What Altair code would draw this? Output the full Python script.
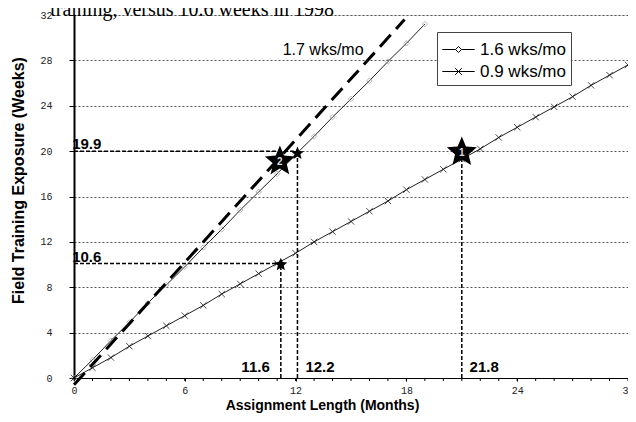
import altair as alt
import pandas as pd

# ---- data ----
months_16 = list(range(0, 20))
weeks_16 = [0, 1.6, 3.3, 4.9, 6.6, 8.2, 9.8, 11.5, 13.1, 14.8, 16.4, 18.0, 19.7,
            21.3, 23.0, 24.6, 26.2, 27.9, 29.5, 31.2]
months_09 = list(range(0, 31))
weeks_09 = [0, 0.9, 1.8, 2.8, 3.7, 4.6, 5.5, 6.4, 7.4, 8.3, 9.2, 10.1, 11.0, 12.0,
            12.9, 13.8, 14.7, 15.6, 16.6, 17.5, 18.4, 19.3, 20.2, 21.2, 22.1, 23.0,
            23.9, 24.8, 25.8, 26.7, 27.6]
months_17 = [0, 17.9]
weeks_17 = [-0.6, 31.6]

series_names = ["1.6 wks/mo", "0.9 wks/mo"]

# reference (dashed) lines: x, x2, y, y2
ref_x = [0, 0, 11.2, 12.1, 21.0]
ref_x2 = [12.1, 11.2, 11.2, 12.1, 21.0]
ref_y = [20.0, 10.1, 0, 0, 0]
ref_y2 = [20.0, 10.1, 10.1, 20.0, 19.9]

# stars
star_x = [12.1, 11.2, 11.15, 21.0]
star_y = [19.8, 10.0, 19.1, 19.9]
star_size = [190, 190, 1000, 1000]
star_num = ["", "", "2", "1"]

# labels
lab_text = ["19.9", "10.6", "11.6", "12.2", "21.8"]
lab_x = [-0.1, -0.1, 10.6, 12.53, 21.42]
lab_y = [20.2, 10.2, 0.5, 0.5, 0.5]
lab_align = ["left", "left", "right", "left", "left"]

x_labels = [0, 6, 12, 18, 24, 30]
x_minor = list(range(0, 31))
y_ticks = [0, 4, 8, 12, 16, 20, 24, 28, 32]

STAR = ("M0,-1L0.2645,-0.364L0.951,-0.309L0.428,0.139L0.588,0.809L0,0.45"
        "L-0.588,0.809L-0.428,0.139L-0.951,-0.309L-0.2645,-0.364Z")
XMARK = "M-1,-1L1,1M-1,1L1,-1"
LEG_DIAMOND = "M-1.35,0H-0.25M0.25,0H1.35M-0.25,0L0,-0.25L0.25,0L0,0.25Z"
LEG_X = "M-1.35,0H1.35M-0.28,-0.28L0.28,0.28M-0.28,0.28L0.28,-0.28"

W, H = 554, 363

# ---- frames ----
df16 = pd.DataFrame({"month": months_16, "weeks": weeks_16, "series": series_names[0]})
df09 = pd.DataFrame({"month": months_09, "weeks": weeks_09, "series": series_names[1]})
df_lines = pd.concat([df16, df09], ignore_index=True)
df_leg = pd.DataFrame({"series": series_names, "month": [1, 1], "weeks": [1, 1]})
df_17 = pd.DataFrame({"month": months_17, "weeks": weeks_17})
df_ref = pd.DataFrame({"x": ref_x, "x2": ref_x2, "y": ref_y, "y2": ref_y2})
df_star = pd.DataFrame({"x": star_x, "y": star_y, "s": star_size, "n": star_num})
df_lab = pd.DataFrame({"t": lab_text, "x": lab_x, "y": lab_y, "a": lab_align})
df_minor = pd.DataFrame({"m": x_minor})

XS = alt.Scale(domain=[0, 30], nice=False, zero=False)
YS = alt.Scale(domain=[0, 32], nice=False, zero=False)

x_axis = alt.Axis(
    values=x_labels, labelOverlap=False,
    grid=False, tickSize=3, tickColor="black", domainColor="black",
    labelFont="Liberation Mono", labelFontSize=10, labelColor="#222",
    labelPadding=4, title="Assignment Length (Months)",
    titleFont="Liberation Sans", titleFontSize=14, titleFontWeight="bold",
    titleColor="black", titleX=248, titleY=27, titleAlign="center",
    titleBaseline="middle", labelFlush=False,
)
y_axis = alt.Axis(
    values=y_ticks, grid=True, gridColor="#555", gridDash=[2, 2], gridWidth=1,
    tickSize=5, tickColor="black", domainColor="black", domainWidth=2,
    labelFont="Liberation Mono", labelFontSize=10, labelColor="#222",
    labelPadding=17, title="Field Training Exposure (Weeks)",
    titleFont="Liberation Sans", titleFontSize=16, titleFontWeight="bold",
    titleColor="black", titleX=-56, titleY=165, titleAngle=-90,
    titleAlign="center", titleBaseline="middle",
)

lines = alt.Chart(df_lines).mark_line(color="#222", strokeWidth=1, clip=False).encode(
    x=alt.X("month:Q", scale=XS, axis=x_axis),
    y=alt.Y("weeks:Q", scale=YS, axis=y_axis),
    detail="series:N",
)

minor_ticks = alt.Chart(df_minor).mark_rule(color="black", strokeWidth=1).encode(
    x=alt.X("m:Q", scale=XS),
    y=alt.value(H), y2=alt.value(H + 3),
)

pts16 = alt.Chart(df16).mark_point(shape="diamond", filled=False, strokeWidth=1, size=30, color="#999").encode(
    x=alt.X("month:Q", scale=XS), y=alt.Y("weeks:Q", scale=YS),
)
pts09 = alt.Chart(df09).mark_point(shape=XMARK, filled=False, strokeWidth=1, size=40, color="black").encode(
    x=alt.X("month:Q", scale=XS), y=alt.Y("weeks:Q", scale=YS),
)

legend_layer = alt.Chart(df_leg).mark_point(filled=False, opacity=0, color="black").encode(
    x=alt.X("month:Q", scale=XS), y=alt.Y("weeks:Q", scale=YS),
    shape=alt.Shape(
        "series:N",
        scale=alt.Scale(domain=series_names, range=[LEG_DIAMOND, LEG_X]),
        legend=alt.Legend(
            title=None, orient="none", legendX=363, legendY=17,
            direction="vertical", padding=5, strokeColor="#444",
            fillColor="white",
            labelFont="Liberation Sans", labelFontSize=17, labelColor="black",
            symbolSize=576, symbolStrokeWidth=1, symbolOpacity=1,
            symbolStrokeColor="black", symbolFillColor="transparent",
            symbolOffset=4, rowPadding=1, labelOffset=9,
        ),
    ),
)

dash17 = alt.Chart(df_17).mark_line(color="black", strokeWidth=3, strokeDash=[16, 8], clip=False).encode(
    x=alt.X("month:Q", scale=XS),
    y=alt.Y("weeks:Q", scale=YS),
)

refs = alt.Chart(df_ref).mark_rule(color="black", strokeWidth=1.5, strokeDash=[4, 2]).encode(
    x=alt.X("x:Q", scale=XS), x2="x2:Q",
    y=alt.Y("y:Q", scale=YS), y2="y2:Q",
)

stars = alt.Chart(df_star).mark_point(shape=STAR, filled=True, color="black", opacity=1).encode(
    x=alt.X("x:Q", scale=XS),
    y=alt.Y("y:Q", scale=YS),
    size=alt.Size("s:Q", scale=None, legend=None),
)

star_nums = alt.Chart(df_star).mark_text(
    font="Liberation Sans", fontSize=10, fontWeight="bold", color="#ddd", dy=1
).encode(
    x=alt.X("x:Q", scale=XS),
    y=alt.Y("y:Q", scale=YS),
    text="n:N",
)

labels_l = alt.Chart(df_lab[df_lab.a == "left"]).mark_text(
    font="Liberation Sans", fontSize=15, fontWeight="bold", color="black",
    align="left", baseline="alphabetic"
).encode(x=alt.X("x:Q", scale=XS), y=alt.Y("y:Q", scale=YS), text="t:N")

labels_r = alt.Chart(df_lab[df_lab.a == "right"]).mark_text(
    font="Liberation Sans", fontSize=15, fontWeight="bold", color="black",
    align="right", baseline="alphabetic"
).encode(x=alt.X("x:Q", scale=XS), y=alt.Y("y:Q", scale=YS), text="t:N")

lab17 = alt.Chart(pd.DataFrame({"t": ["1.7 wks/mo"], "x": [11.3], "y": [28.5]})).mark_text(
    font="Liberation Sans", fontSize=16, color="black", align="left", baseline="alphabetic"
).encode(x=alt.X("x:Q", scale=XS), y=alt.Y("y:Q", scale=YS), text="t:N")

caption = alt.Chart(pd.DataFrame({"t": ["training, versus 10.6 weeks in 1998"], "x": [-1.29], "y": [32.0]})).mark_text(
    font="Liberation Serif", fontSize=20, color="black", align="left", baseline="alphabetic", dy=0.5
).encode(x=alt.X("x:Q", scale=XS), y=alt.Y("y:Q", scale=YS), text="t:N")

chart = alt.layer(
    lines, minor_ticks, pts16, pts09, legend_layer, dash17, refs, stars, star_nums,
    labels_l, labels_r, lab17, caption
).properties(
    width=W, height=H,
    autosize=alt.AutoSizeParams(type="none"),
    padding={"left": 66, "top": 7, "right": 0, "bottom": 36},
).configure_view(stroke=None).configure(background="white")

chart.save("out.html", embed_options={"renderer": "svg", "actions": False})
